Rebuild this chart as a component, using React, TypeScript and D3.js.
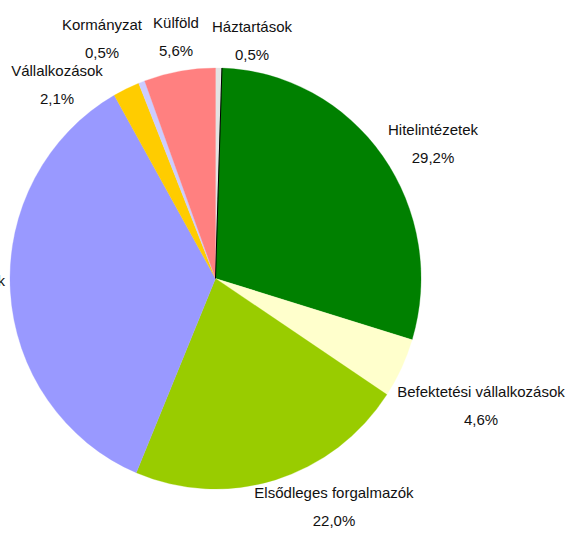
import React from "react";
import * as d3 from "d3";

const categories = [
  "Háztartások",
  "Hitelintézetek",
  "Befektetési vállalkozások",
  "Elsődleges forgalmazók",
  "Intézményi befektetők",
  "Vállalkozások",
  "Kormányzat",
  "Külföld",
];
const values = [0.5, 29.2, 4.6, 22.0, 35.5, 2.1, 0.5, 5.6];
const valueLabels = ["0,5%", "29,2%", "4,6%", "22,0%", "35,5%", "2,1%", "0,5%", "5,6%"];
const colors = ["#E3E3E3", "#008000", "#FFFFCC", "#99CC00", "#9999FF", "#FFCC00", "#CCCCFF", "#FF8080"];
// label anchor positions (name line baseline; percent line below)
const labelPos: [number, number, string][] = [
  [252, 32, "middle"],
  [433, 135, "middle"],
  [481, 397, "middle"],
  [334, 498, "middle"],
  [5, 286, "end"],
  [57, 76, "middle"],
  [102, 30, "middle"],
  [176, 28, "middle"],
];

export default function App() {
  const W = 566, H = 533;
  const cx = 215.5, cy = 278.5, rx = 205.5, ry = 210.5;
  const data = categories.map((c, i) => ({ name: c, value: values[i], idx: i }));
  const pie = d3.pie<any>().sort(null).value((d) => d.value).startAngle(0).endAngle(2 * Math.PI);
  const arcs = pie(data);
  const arc = d3.arc<any>().innerRadius(0).outerRadius(rx);
  const sepAngle = arcs[0].endAngle;
  return (
    <svg width={W} height={H} style={{ position: "absolute", left: 0, top: 0, background: "#fff" }}
      fontFamily="'Liberation Sans', Arial, sans-serif" fontSize={15}>
      <g transform={`translate(${cx},${cy}) scale(1,${ry / rx})`}>
        {arcs.map((a, i) => (
          <path key={i} d={arc(a) as string} fill={colors[i]} stroke={colors[i]} strokeWidth={0.3} />
        ))}
        <line x1={0} y1={0} x2={rx * Math.sin(sepAngle)} y2={-rx * Math.cos(sepAngle)} stroke="#000" strokeWidth={1} />
      </g>
      {labelPos.map(([x, y, anchor], i) => {
        const px = anchor === "end" ? x - 60 : x;
        return (
          <g key={i} fill="#111">
            <text x={x} y={y} textAnchor={anchor}>{categories[i]}</text>
            <text x={px} y={y + 28} textAnchor="middle">{valueLabels[i]}</text>
          </g>
        );
      })}
    </svg>
  );
}
